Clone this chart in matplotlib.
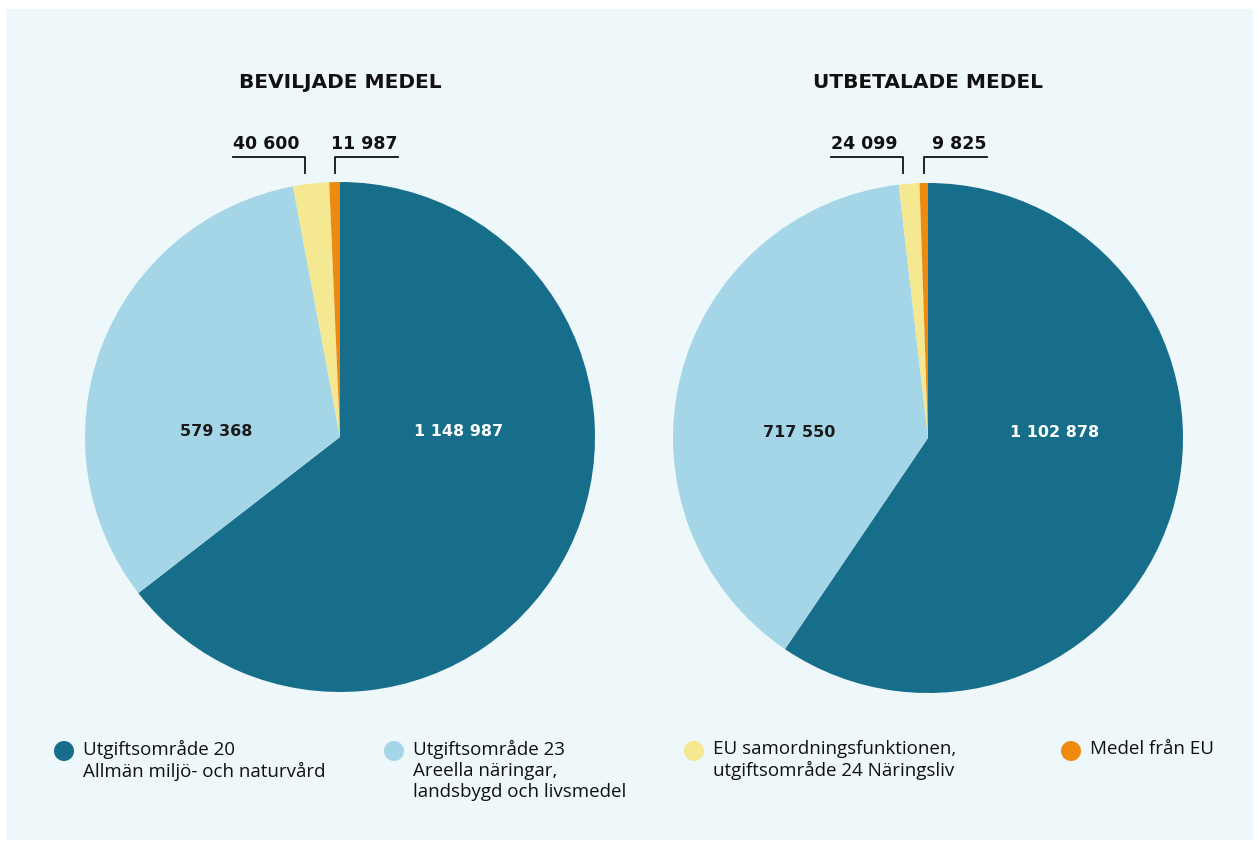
import numpy as np
import matplotlib
matplotlib.use("Agg")
import matplotlib.pyplot as plt
from matplotlib.patches import Rectangle, Circle

plt.rcParams["font.family"] = ["Open Sans", "DejaVu Sans"]

# data
titles = ["BEVILJADE MEDEL", "UTBETALADE MEDEL"]
beviljade = [1148987, 579368, 40600, 11987]
utbetalade = [1102878, 717550, 24099, 9825]
categories = [
    "Utgiftsområde 20\nAllmän miljö- och naturvård",
    "Utgiftsområde 23\nAreella näringar,\nlandsbygd och livsmedel",
    "EU samordningsfunktionen,\nutgiftsområde 24 Näringsliv",
    "Medel från EU",
]
colors = ["#166e8b", "#a5d6e8", "#f4e891", "#ef8a11"]
label_colors = ["white", "#1a1a1a"]

W, H = 1259, 846
fig = plt.figure(figsize=(W / 100, H / 100), dpi=100, facecolor="white")
ax = fig.add_axes([0, 0, 1, 1])
BOLD = dict(family="DejaVu Sans", fontweight="bold", color="#111111")


def fmt(v):
    return f"{v:,}".replace(",", " ")


def ypx(y):
    # image pixel row -> data y
    return H - y


ax.add_patch(Rectangle((6, ypx(840)), 1247, 831, facecolor="#eef7fa",
                       edgecolor="none", zorder=0))

R = 255
centers = [(340, 437), (928, 438)]
for values, title, (cx, cy) in zip([beviljade, utbetalade], titles, centers):
    ax.pie(values, colors=colors, startangle=90, counterclock=False,
           center=(cx, ypx(cy)), radius=R,
           wedgeprops=dict(linewidth=0))
    ax.text(cx, ypx(82), title, ha="center", va="center", fontsize=14.5, **BOLD)

    total = float(sum(values))
    frac = np.array(values) / total
    cum = np.concatenate([[0], np.cumsum(frac)])
    mids = (cum[:-1] + cum[1:]) / 2

    # inner labels for the two big slices
    for i in range(2):
        ang = np.deg2rad(90 - mids[i] * 360)
        r = 0.52 * R
        kw = dict(BOLD, color=label_colors[i])
        ax.text(cx + r * np.cos(ang), ypx(cy) + 6, fmt(values[i]),
                ha="center", va="center", fontsize=11.5, **kw)

    # callouts for the small slices
    y_line = ypx(157)
    y_bot = ypx(173)
    for i, side in [(2, "left"), (3, "right")]:
        ang = np.deg2rad(90 - mids[i] * 360)
        xd = cx + R * np.cos(ang)
        if i == 2:
            xd -= 6
        txt = fmt(values[i])
        if side == "left":
            x_end = xd - 72
            ax.plot([x_end, xd, xd], [y_line, y_line, y_bot], color="#111111", lw=1.3)
            ax.text(x_end, y_line + 4, txt, ha="left", va="bottom", fontsize=12.5, **BOLD)
        else:
            x_end = xd + 63
            ax.plot([x_end, xd, xd], [y_line, y_line, y_bot], color="#111111", lw=1.3)
            ax.text(x_end, y_line + 4, txt, ha="right", va="bottom", fontsize=12.5, **BOLD)

# legend
leg_x = [64, 394, 694, 1071]
for x, lab, col in zip(leg_x, categories, colors):
    ax.add_patch(Circle((x, ypx(751)), 10, facecolor=col, edgecolor="none"))
    ax.text(x + 19, ypx(740), lab, ha="left", va="top", fontsize=13.5,
            color="#111111", linespacing=1.2)

ax.set_xlim(0, W)
ax.set_ylim(0, H)
ax.set_aspect("auto")
ax.axis("off")

fig.savefig("out.png", dpi=100, facecolor="white")
